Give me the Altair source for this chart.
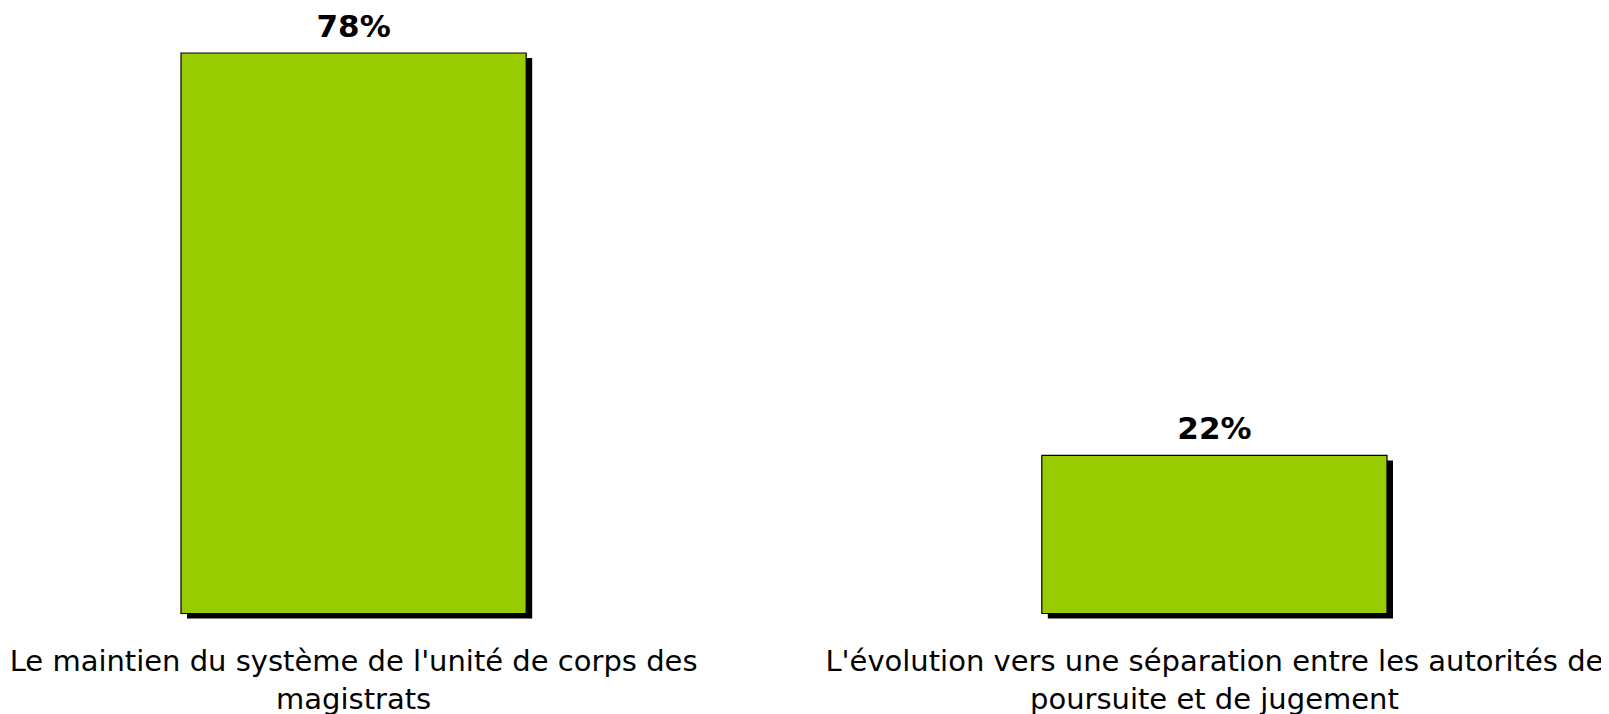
import altair as alt
import pandas as pd

categories = [
    "Le maintien du système de l'unité de corps des|magistrats",
    "L'évolution vers une séparation entre les autorités de|poursuite et de jugement",
]
values = [78, 22]
value_labels = ["78%", "22%"]

df = pd.DataFrame({"cat": categories, "val": values, "lab": value_labels})

x = alt.X(
    "cat:N",
    sort=categories,
    scale=alt.Scale(paddingInner=0.599, paddingOuter=0),
    axis=alt.Axis(
        title=None,
        domain=False,
        ticks=False,
        labelAngle=0,
        labelExpr="split(datum.value, '|')",
        labelFont="DejaVu Sans",
        labelFontSize=29,
        labelColor="#000000",
        labelPadding=34,
        labelLineHeight=38,
        labelLimit=1000,
        labelBaseline="top",
    ),
)
y = alt.Y("val:Q", scale=alt.Scale(domain=[0, 84.26], nice=False, zero=True), axis=None)

base = alt.Chart(df).encode(x=x, y=y)

shadow = base.mark_bar(color="#000000", xOffset=6, yOffset=5, y2Offset=4)
bars = base.mark_bar(color="#99CC00", stroke="#000000", strokeWidth=1.2)
text = base.mark_text(
    baseline="alphabetic", dy=-16, font="DejaVu Sans", fontSize=31, fontWeight="bold", color="#000000"
).encode(text="lab:N")

chart = (
    alt.layer(shadow, bars, text)
    .properties(
        width=1206,
        height=605.5,
        background="#ffffff",
        autosize=alt.AutoSizeParams(type="none"),
        padding={"left": 173, "top": 0, "right": 214, "bottom": 100},
    )
    .configure_view(strokeWidth=0)
)

chart.save("out.html", embed_options={"renderer": "svg", "actions": False})
